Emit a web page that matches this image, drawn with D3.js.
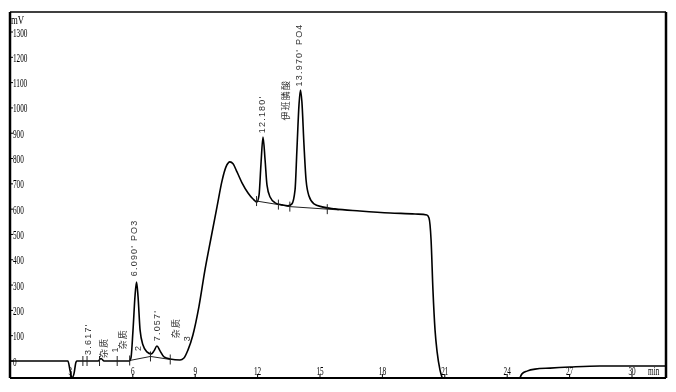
<!DOCTYPE html>
<html>
<head>
<meta charset="utf-8">
<script src="https://cdn.jsdelivr.net/npm/d3@7"></script>
<style>
  html, body { margin: 0; padding: 0; background: #fff; }
  svg { display: block; will-change: transform; }
  .tick-label { font-family: "Liberation Serif", serif; font-size: 12.5px; fill: #000; }
  .peak-label { font-family: "Liberation Sans", "Noto Sans CJK SC", sans-serif; font-size: 9px; fill: #333; letter-spacing: 1.2px; }
</style>
</head>
<body>
<svg id="chart" width="676" height="392"></svg>
<script>
(function() {
    'use strict';

    // Trace: retention time (min) and signal (mV)
    const traceTime = [
        0, 2.88, 2.98, 3.08, 3.17, 3.27, 3.32, 4.33, 4.47, 4.62, 5.82, 5.91, 6.01, 6.11,
        6.18, 6.25, 6.35, 6.49, 6.68, 6.88, 7.02, 7.16, 7.31, 7.5, 7.79, 8.27, 8.46, 8.65,
        8.89, 9.18, 9.47, 9.76, 10.05, 10.29, 10.48, 10.67, 10.82, 11.01, 11.25, 11.54,
        11.78, 11.97, 12.07, 12.16, 12.26, 12.36, 12.45, 12.6, 12.84, 13.17, 13.46, 13.65,
        13.8, 13.89, 13.99, 14.06, 14.13, 14.23, 14.33, 14.47, 14.71, 15.1, 15.72, 16.92,
        18.37, 19.57, 20.14, 20.24, 20.34, 20.43, 20.53, 20.63, 20.77, 20.91, 21.06, 23.65,
        24.38, 24.57, 24.71, 24.95, 25.34, 26.06, 27.02, 28.46, 29.9, 31.7
    ];
    const traceMv = [
        0, 0, -36, -67, -51, -4, 0, 0, 10, 0, 0, 12, 122, 261,
        312, 257, 122, 63, 36, 28, 40, 59, 40, 16, 8, 4, 12, 43,
        103, 215, 360, 486, 610, 712, 767, 787, 779, 747, 704, 664,
        640, 628, 656, 775, 885, 794, 696, 648, 625, 617, 613, 621,
        676, 834, 1012, 1071, 1024, 854, 715, 652, 621, 609, 601, 593,
        585, 581, 577, 565, 478, 281, 123, 36, -36, -75, -115, -134,
        -115, -75, -51, -40, -32, -28, -24, -20, -20, -20
    ];

    // Integration baselines (time, mV)
    const baseA = [[5.85, 2], [6.85, 18], [7.8, 6]];
    const baseB = [[11.95, 632], [13.0, 618], [13.55, 610], [15.9, 597]];

    // Peak boundary markers (time, mV)
    const markTime = [3.6, 3.8, 4.4, 5.25, 5.85, 6.85, 7.8, 11.95, 13.0, 13.55, 15.35];
    const markMv = [0, 0, 0, 0, 2, 18, 6, 632, 618, 610, 600];

    // Peak labels (time, mV at text start)
    const labelText = ["3.617'", "杂质", "1", "杂质", "6.090'  PO3", "2", "7.057'", "杂质", "3",
                       "12.180'", "伊班膦酸", "13.970'  PO4"];
    const labelTime = [3.97, 4.75, 5.3, 5.65, 6.2, 6.4, 7.3, 8.2, 8.75, 12.35, 13.5, 14.15];
    const labelMv = [24, 12, 34, 46, 335, 40, 78, 90, 78, 900, 950, 1085];

    const yTicks = d3.range(0, 1301, 100);
    const xTicks = [3, 6, 9, 12, 15, 18, 21, 24, 27, 30];

    const frame = { left: 10, right: 666, top: 12, bottom: 378 };

    const x = d3.scaleLinear().domain([0, 30]).range([8, 632]);
    const y = d3.scaleLinear().domain([0, 1300]).range([361, 32]);

    const svg = d3.select('#chart');

    svg.append('rect').attr('width', 676).attr('height', 392).attr('fill', '#fff');

    svg.append('defs').append('clipPath').attr('id', 'plot-clip')
        .append('rect')
        .attr('x', frame.left).attr('y', frame.top)
        .attr('width', frame.right - frame.left)
        .attr('height', frame.bottom - frame.top);

    // Frame
    svg.append('line').attr('x1', frame.left).attr('x2', frame.right)
        .attr('y1', frame.top).attr('y2', frame.top)
        .attr('stroke', '#000').attr('stroke-width', 1.5);
    svg.append('line').attr('x1', frame.right).attr('x2', frame.right)
        .attr('y1', frame.top).attr('y2', frame.bottom)
        .attr('stroke', '#000').attr('stroke-width', 2.5);
    svg.append('line').attr('x1', frame.left).attr('x2', frame.left)
        .attr('y1', frame.top).attr('y2', frame.bottom)
        .attr('stroke', '#000').attr('stroke-width', 2.5);
    svg.append('line').attr('x1', frame.left).attr('x2', frame.right)
        .attr('y1', frame.bottom).attr('y2', frame.bottom)
        .attr('stroke', '#000').attr('stroke-width', 1.8);

    // Y axis ticks and labels
    const yAxis = svg.append('g');
    yTicks.forEach(v => {
        yAxis.append('line')
            .attr('x1', frame.left).attr('x2', frame.left + 3)
            .attr('y1', y(v)).attr('y2', y(v))
            .attr('stroke', '#000');
        yAxis.append('text')
            .attr('class', 'tick-label')
            .attr('transform', `translate(${frame.left + 3}, ${y(v) + 4.5}) scale(0.58, 1)`)
            .text(v);
    });
    svg.append('text')
        .attr('class', 'tick-label')
        .attr('transform', `translate(${frame.left + 1}, ${frame.top + 12}) scale(0.7, 1)`)
        .text('mV');

    // X axis ticks and labels
    const xAxis = svg.append('g');
    xTicks.forEach(v => {
        xAxis.append('line')
            .attr('x1', x(v)).attr('x2', x(v))
            .attr('y1', frame.bottom).attr('y2', frame.bottom - 4)
            .attr('stroke', '#000');
        xAxis.append('text')
            .attr('class', 'tick-label')
            .attr('text-anchor', 'middle')
            .attr('transform', `translate(${x(v)}, ${frame.bottom - 3}) scale(0.58, 1)`)
            .text(v);
    });
    svg.append('text')
        .attr('class', 'tick-label')
        .attr('transform', `translate(${x(30) + 16}, ${frame.bottom - 3}) scale(0.58, 1)`)
        .text('min');

    const plot = svg.append('g').attr('clip-path', 'url(#plot-clip)');

    const line = d3.line().x(d => x(d[0])).y(d => y(d[1]));

    // Integration baselines
    [baseA, baseB].forEach(b => {
        plot.append('path')
            .attr('d', line(b))
            .attr('fill', 'none')
            .attr('stroke', '#222')
            .attr('stroke-width', 1);
    });

    // Trace
    const trace = traceTime.map((t, i) => [t, traceMv[i]]);
    plot.append('path')
        .attr('d', line.curve(d3.curveMonotoneX)(trace))
        .attr('fill', 'none')
        .attr('stroke', '#000')
        .attr('stroke-width', 1.6);

    // Boundary markers
    markTime.forEach((t, i) => {
        plot.append('line')
            .attr('x1', x(t)).attr('x2', x(t))
            .attr('y1', y(markMv[i]) - 5).attr('y2', y(markMv[i]) + 5)
            .attr('stroke', '#222');
    });

    // Peak labels, rotated
    labelText.forEach((txt, i) => {
        svg.append('text')
            .attr('class', 'peak-label')
            .attr('transform', `translate(${x(labelTime[i])}, ${y(labelMv[i])}) rotate(-90)`)
            .text(txt);
    });
})();
</script>
</body>
</html>
